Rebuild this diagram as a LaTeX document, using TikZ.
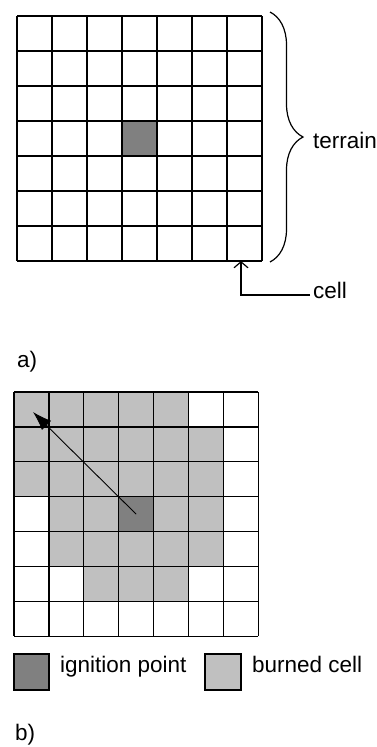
\documentclass[tikz,border=0pt]{standalone}
\usepackage{fontspec}
\setmainfont{Liberation Sans}
\usetikzlibrary{decorations.pathreplacing,arrows.meta}
\definecolor{igngray}{HTML}{808080}
\definecolor{burngray}{HTML}{C0C0C0}
\tikzset{
  gridline/.style={line width=1.2pt, black},
  lbl/.style={inner sep=0pt, anchor=base west, font=\fontsize{22.5}{27}\selectfont},
  ignfill/.style={fill=igngray},
  burnfill/.style={fill=burngray},
}
\begin{document}
\begin{tikzpicture}[x=1pt,y=-1pt]
\useasboundingbox (0,0) rectangle (377,747);
% ---------- a) ----------
\def\ax{17}\def\ay{16}\def\c{35}
\fill[ignfill] (\ax+3*\c,\ay+3*\c) rectangle ++(\c,\c);
\foreach \i in {0,...,7}{
  \draw[gridline] (\ax+\i*\c,\ay) -- (\ax+\i*\c,\ay+7*\c);
  \draw[gridline] (\ax,\ay+\i*\c) -- (\ax+7*\c,\ay+\i*\c);
}
\draw[line width=1.2pt, decorate, decoration={brace, amplitude=33pt}] (270,12) -- (270,262);
\node[lbl] (terrain) at (313,148) {terrain};
\coordinate (cellcorner) at (241,261);
\coordinate (cellend) at (310,295);
\node[lbl] (cell) at (313,298) {cell};
\draw[line width=1.2pt, -{Straight Barb[length=6pt,width=14pt]}] (cellend) -| (cellcorner);
\node[lbl] (labela) at (17,367) {a)};
% ---------- b) ----------
\def\bx{14}\def\by{392}\def\d{34.9}
\foreach \r/\cols in {0/{0,1,2,3,4},1/{0,1,2,3,4,5},2/{0,1,2,3,4,5},3/{1,2,4,5},4/{1,2,3,4,5},5/{2,3,4}}{
  \foreach \k in \cols {
    \fill[burnfill] (\bx+\k*\d,\by+\r*\d) rectangle ++(\d,\d);
  }
}
\fill[ignfill] (\bx+3*\d,\by+3*\d) rectangle ++(\d,\d);
\foreach \i in {0,...,7}{
  \draw[gridline] (\bx+\i*\d,\by) -- (\bx+\i*\d,\by+7*\d);
  \draw[gridline] (\bx,\by+\i*\d) -- (\bx+7*\d,\by+\i*\d);
}
\coordinate (igncenter) at (\bx+3.5*\d,\by+3.5*\d);
\coordinate (spreadtip) at (33,412);
\draw[line width=0.9pt, -{Latex[length=19pt,width=13pt]}] (igncenter) -- (spreadtip);
% legend
\draw[line width=1.2pt, ignfill] (14,654) rectangle (49,690);
\node[lbl] (ignlbl) at (60,672) {ignition point};
\draw[line width=1.2pt, burnfill] (205,654) rectangle (241,690);
\node[lbl] (burnlbl) at (252,672) {burned cell};
\node[lbl] (labelb) at (15,740) {b)};
\end{tikzpicture}
\end{document}
